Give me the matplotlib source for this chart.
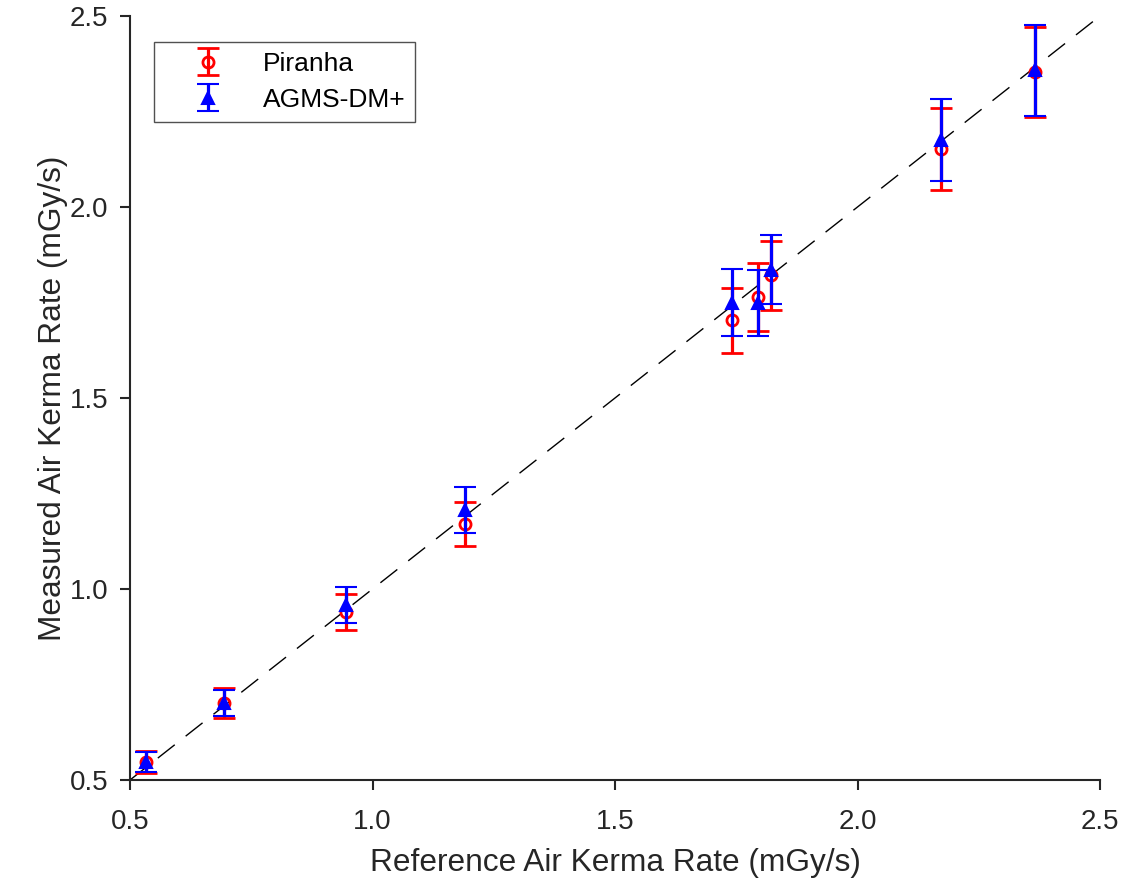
import matplotlib
matplotlib.use("Agg")
import matplotlib.pyplot as plt
import numpy as np

plt.rcParams['font.family'] = ['Liberation Sans', 'DejaVu Sans']

reference = [0.533, 0.694, 0.945, 1.191, 1.741, 1.795, 1.821, 2.172, 2.365]
piranha = [0.548, 0.702, 0.940, 1.171, 1.704, 1.764, 1.821, 2.151, 2.353]
piranha_err = [0.029, 0.040, 0.047, 0.058, 0.085, 0.089, 0.091, 0.107, 0.118]
agms = [0.547, 0.702, 0.959, 1.206, 1.750, 1.748, 1.836, 2.176, 2.358]
agms_err = [0.026, 0.034, 0.047, 0.060, 0.087, 0.087, 0.091, 0.108, 0.119]

xlim = [0.5, 2.5]
ylim = [0.5, 2.5]
ticks = [0.5, 1.0, 1.5, 2.0, 2.5]
tick_labels = ["0.5", "1.0", "1.5", "2.0", "2.5"]

fig = plt.figure(figsize=(11.37, 8.83), dpi=100)
ax = fig.add_axes([130/1137, 103/883, 970/1137, 764/883])

ax.plot(xlim, ylim, linestyle=(0, (15.5, 10)), color='black', linewidth=1.0, zorder=1)

ax.errorbar(reference, piranha, yerr=piranha_err, fmt='o', color='red',
            markerfacecolor='none', markeredgecolor='red', markersize=8,
            markeredgewidth=2, elinewidth=2.3, capsize=8, capthick=2.3,
            label='Piranha', zorder=2)
ax.errorbar(reference, agms, yerr=agms_err, fmt='^', color='blue',
            markerfacecolor='blue', markeredgecolor='blue', markersize=8.5,
            markeredgewidth=1.5, elinewidth=2.3, capsize=8, capthick=2.3,
            label='AGMS-DM+', zorder=3)

ax.set_xlim(xlim)
ax.set_ylim(ylim)
ax.set_xticks(ticks)
ax.set_xticklabels(tick_labels)
ax.set_yticks(ticks)
ax.set_yticklabels(tick_labels)

dark = '#262626'
for s in ['top', 'right']:
    ax.spines[s].set_visible(False)
for s in ['left', 'bottom']:
    ax.spines[s].set_color(dark)
    ax.spines[s].set_linewidth(1.5)
ax.tick_params(direction='out', length=7, width=1.5, colors=dark, labelsize=20)
ax.xaxis.set_tick_params(pad=14)
ax.yaxis.set_tick_params(pad=8.5)
ax.set_xlabel('Reference Air Kerma Rate (mGy/s)', fontsize=22.8, color=dark, labelpad=9.5)
ax.set_ylabel('Measured Air Kerma Rate (mGy/s)', fontsize=22.8, color=dark, labelpad=1.5)

leg = ax.legend(loc='upper left', bbox_to_anchor=(24/970, 1 - 26/764),
                borderaxespad=0, fontsize=19, frameon=True, fancybox=False,
                edgecolor=dark, borderpad=0.37, handlelength=3.35,
                handletextpad=0.4, labelspacing=0.46)
leg.get_frame().set_linewidth(1.0)

fig.savefig('out.png', dpi=100, facecolor='white')
